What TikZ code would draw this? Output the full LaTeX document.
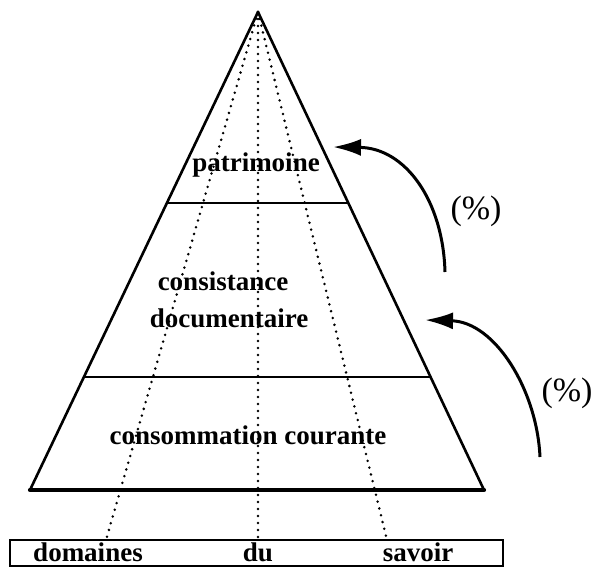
\documentclass[tikz,border=0pt]{standalone}
\usepackage{fontspec}
\setmainfont{Liberation Serif}
\usetikzlibrary{arrows.meta,calc}

\begin{document}
\begin{tikzpicture}[x=1pt,y=-1pt,
	lbl/.style={font=\bfseries\fontsize{27}{29}\selectfont,inner sep=0pt},
	pct/.style={font=\fontsize{34}{36}\selectfont,inner sep=0pt},
	dots/.style={line width=2.8pt,line cap=round,dash pattern=on 0pt off 7pt},
	flow/.style={line width=3pt,-{Latex[length=28pt,width=17pt]}}]
\useasboundingbox (0,0) rectangle (595,571);

% pyramid
\coordinate (apex) at (258,12);
\coordinate (bl) at (30,490);
\coordinate (br) at (484,490);
\draw[line width=2.6pt,line join=round] (bl) -- (apex) -- (br);
\draw[line width=4.2pt,line cap=round] (bl) -- (br);
\coordinate (l1) at ($(apex)!0.3996!(bl)$);
\coordinate (r1) at ($(apex)!0.3996!(br)$);
\coordinate (l2) at ($(apex)!0.7636!(bl)$);
\coordinate (r2) at ($(apex)!0.7636!(br)$);
\draw[line width=2.4pt] (l1) -- (r1);
\draw[line width=2.4pt] (l2) -- (r2);

% box of the domains
\node (savbox) at (256.5,553) [draw,line width=2pt,minimum width=493pt,minimum height=26pt,inner sep=0pt] {};
\node (dom) at (88,552) [lbl] {domaines};
\node (du) at (258,552) [lbl] {du};
\node (sav) at (418,552) [lbl] {savoir};
\coordinate (dl) at (106,540);
\coordinate (dm) at (258,540);
\coordinate (dr) at (387,540);
\draw[dots] (apex) -- (dl);
\draw[dots] (apex) -- (dm);
\draw[dots] (apex) -- (dr);

% levels
\node (patr) at (256,165) [lbl] {patrimoine};
\node (cons) at (223,281) [lbl] {consistance};
\node (doc) at (229,318) [lbl] {documentaire};
\node (cour) at (248,435) [lbl] {consommation\ courante};

% shifts
\coordinate (s1) at (445,272);
\coordinate (t1) at (333,147);
\coordinate (s2) at (540,457);
\coordinate (t2) at (425,320);
\draw[flow] (s1) .. controls (443,200) and (405,148) .. (t1);
\draw[flow] (s2) .. controls (537,390) and (495,322) .. (t2);
\node (p1) at (476,211) [pct] {(\%)};
\node (p2) at (567,393) [pct] {(\%)};
\end{tikzpicture}
\end{document}
